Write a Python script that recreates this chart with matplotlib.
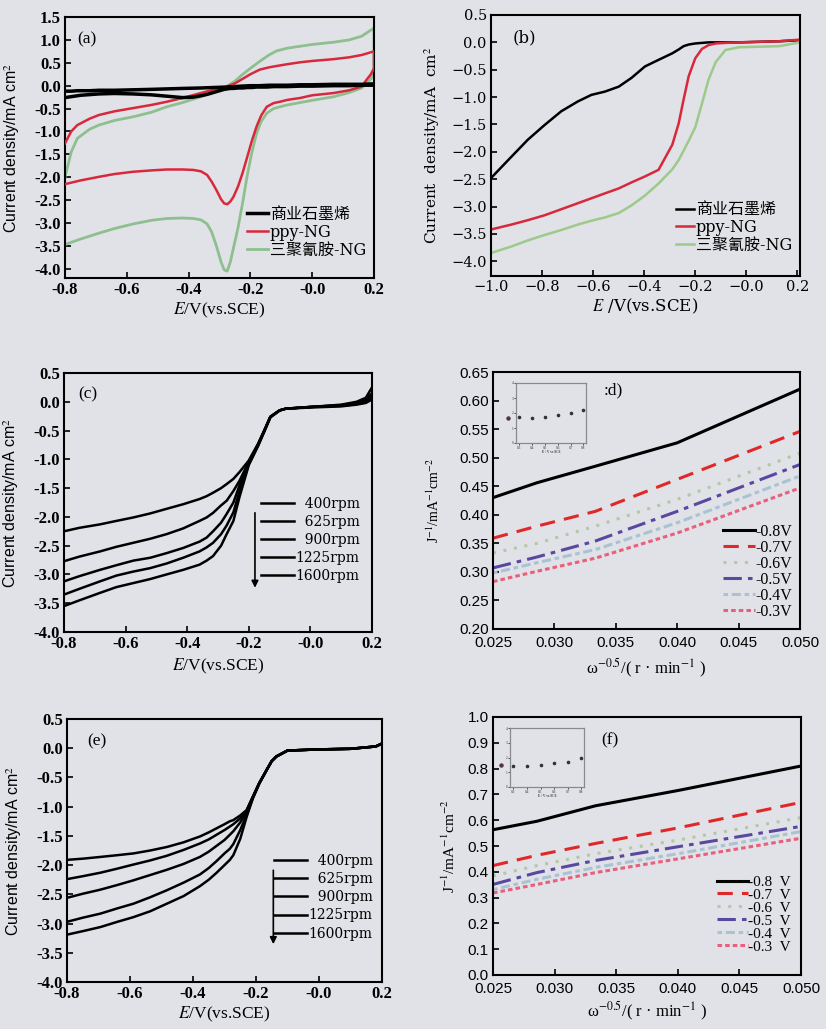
import numpy as np
import matplotlib
matplotlib.use('Agg')
import matplotlib.pyplot as plt
from matplotlib.ticker import FuncFormatter

plt.rcParams['font.family'] = ['Liberation Serif', 'Noto Sans CJK SC', 'DejaVu Sans']
plt.rcParams['mathtext.fontset'] = 'stix'
plt.rcParams['axes.unicode_minus'] = False

BG = '#e1e2e7'
RED = '#d8283c'
GREEN_A = '#8dc08e'
GREEN_B = '#9dc98a'

# ---------------- (a) CV curves: upper (anodic) and lower (cathodic) branches
e_a_up = [-0.8, -0.78, -0.76, -0.72, -0.69, -0.64, -0.58, -0.52, -0.47, -0.42, -0.36, -0.32, -0.28,
          -0.25, -0.23, -0.2, -0.17, -0.14, -0.115, -0.08, -0.04, 0.0, 0.07, 0.12, 0.16, 0.2]
red_a_up = [-1.26, -1.0, -0.86, -0.72, -0.64, -0.56, -0.49, -0.42, -0.35, -0.27, -0.16, -0.09, -0.03,
            0.05, 0.13, 0.25, 0.35, 0.4, 0.43, 0.47, 0.51, 0.54, 0.58, 0.62, 0.67, 0.75]
green_a_up = [-2.0, -1.45, -1.15, -0.95, -0.86, -0.76, -0.68, -0.58, -0.46, -0.37, -0.24, -0.14, -0.03,
              0.1, 0.22, 0.38, 0.53, 0.67, 0.76, 0.82, 0.86, 0.9, 0.95, 1.0, 1.08, 1.26]
black_a_up = [-0.12, -0.12, -0.11, -0.11, -0.1, -0.1, -0.09, -0.08, -0.07, -0.06, -0.05, -0.04, -0.03,
              -0.02, -0.01, 0.0, 0.0, 0.01, 0.01, 0.01, 0.02, 0.02, 0.03, 0.03, 0.03, 0.04]
e_a_dn = [0.2, 0.19, 0.176, 0.16, 0.12, 0.07, 0.0, -0.04, -0.08, -0.104, -0.125, -0.147, -0.165, -0.18,
          -0.195, -0.21, -0.225, -0.24, -0.255, -0.265, -0.275, -0.285, -0.295, -0.31, -0.325, -0.34,
          -0.36, -0.385, -0.42, -0.47, -0.52, -0.58, -0.64, -0.69, -0.75, -0.8]
red_a_dn = [0.38, 0.25, 0.13, -0.02, -0.1, -0.16, -0.21, -0.27, -0.31, -0.35, -0.38, -0.46, -0.65, -0.89,
            -1.2, -1.55, -1.9, -2.2, -2.43, -2.53, -2.59, -2.57, -2.48, -2.28, -2.1, -1.95,
            -1.87, -1.84, -1.83, -1.83, -1.85, -1.88, -1.93, -1.99, -2.07, -2.15]
green_a_dn = [0.28, 0.15, 0.05, -0.05, -0.15, -0.24, -0.32, -0.37, -0.42, -0.46, -0.5, -0.6, -0.78, -1.04,
              -1.45, -1.95, -2.55, -3.1, -3.55, -3.85, -4.05, -4.02, -3.85, -3.5, -3.2, -3.02,
              -2.93, -2.9, -2.89, -2.9, -2.94, -3.02, -3.12, -3.22, -3.35, -3.47]
black_a_dn = [0.01, 0.01, 0.01, 0.01, 0.0, 0.0, -0.01, -0.01, -0.02, -0.02, -0.02, -0.03, -0.03, -0.03,
              -0.04, -0.04, -0.05, -0.05, -0.06, -0.06, -0.07, -0.08, -0.1, -0.13, -0.16, -0.19,
              -0.22, -0.25, -0.26, -0.23, -0.2, -0.18, -0.17, -0.18, -0.21, -0.26]
labels_ab = ['商业石墨烯', 'ppy-NG', '三聚氰胺-NG']

# ---------------- (b) LSV
e_b = [-1.0, -0.92, -0.856, -0.79, -0.725, -0.66, -0.607, -0.554, -0.5, -0.45, -0.397, -0.344, -0.29,
       -0.265, -0.246, -0.226, -0.2, -0.174, -0.148, -0.12, -0.082, -0.03, 0.05, 0.128, 0.21]
black_b = [-2.48, -2.09, -1.78, -1.51, -1.26, -1.08, -0.96, -0.9, -0.81, -0.65, -0.44, -0.32, -0.2,
           -0.13, -0.07, -0.04, -0.02, -0.01, 0.0, 0.0, 0.0, 0.0, 0.01, 0.02, 0.04]
red_b = [-3.42, -3.33, -3.25, -3.16, -3.05, -2.94, -2.85, -2.76, -2.67, -2.56, -2.45, -2.33, -1.87,
         -1.48, -1.05, -0.62, -0.29, -0.12, -0.05, -0.02, -0.01, 0.0, 0.01, 0.02, 0.05]
green_b = [-3.85, -3.73, -3.62, -3.52, -3.43, -3.33, -3.26, -3.2, -3.12, -2.98, -2.8, -2.58, -2.32,
           -2.15, -1.98, -1.8, -1.55, -1.12, -0.68, -0.36, -0.14, -0.09, -0.08, -0.07, 0.0]

# ---------------- (c) LSV at different rotation rates
rpm_labels = ['  400rpm', '  625rpm', '  900rpm', '1225rpm', '1600rpm']
e_c = [-0.8, -0.75, -0.683, -0.63, -0.575, -0.52, -0.467, -0.413, -0.36, -0.337, -0.316, -0.29, -0.272,
       -0.25, -0.23, -0.2, -0.17, -0.15, -0.13, -0.1, -0.08, 0.0, 0.1, 0.15, 0.18, 0.2]
c400 = [-2.25, -2.19, -2.13, -2.07, -2.01, -1.94, -1.86, -1.78, -1.69, -1.64, -1.58, -1.5, -1.43,
        -1.34, -1.22, -1.02, -0.73, -0.5, -0.26, -0.15, -0.12, -0.09, -0.05, 0.0, 0.07, 0.25]
c625 = [-2.77, -2.69, -2.6, -2.52, -2.45, -2.38, -2.3, -2.2, -2.07, -2.01, -1.93, -1.8, -1.72,
        -1.55, -1.37, -1.04, -0.74, -0.5, -0.26, -0.15, -0.12, -0.09, -0.06, -0.02, 0.04, 0.15]
c900 = [-3.12, -3.03, -2.92, -2.84, -2.76, -2.71, -2.63, -2.54, -2.43, -2.36, -2.25, -2.1, -1.95,
        -1.75, -1.45, -1.06, -0.75, -0.51, -0.26, -0.15, -0.12, -0.09, -0.06, -0.03, 0.02, 0.1]
c1225 = [-3.35, -3.25, -3.12, -3.02, -2.95, -2.89, -2.81, -2.71, -2.6, -2.53, -2.45, -2.3, -2.15,
         -1.92, -1.55, -1.08, -0.76, -0.52, -0.27, -0.15, -0.12, -0.09, -0.07, -0.04, 0.0, 0.07]
c1600 = [-3.55, -3.45, -3.32, -3.22, -3.15, -3.08, -3.0, -2.92, -2.83, -2.76, -2.68, -2.5, -2.3,
         -2.07, -1.65, -1.1, -0.77, -0.52, -0.27, -0.15, -0.12, -0.1, -0.08, -0.05, -0.02, 0.04]

# ---------------- (e)
e_e = [-0.8, -0.75, -0.694, -0.64, -0.589, -0.536, -0.483, -0.43, -0.378, -0.35, -0.325, -0.3, -0.283,
       -0.272, -0.25, -0.23, -0.21, -0.19, -0.166, -0.15, -0.135, -0.1, 0.0, 0.1, 0.18, 0.2]
e400 = [-1.91, -1.89, -1.86, -1.83, -1.8, -1.75, -1.69, -1.61, -1.51, -1.44, -1.37, -1.3, -1.25,
        -1.23, -1.15, -1.06, -0.83, -0.6, -0.37, -0.22, -0.14, -0.04, -0.02, -0.01, 0.03, 0.08]
e625 = [-2.24, -2.19, -2.13, -2.06, -1.99, -1.92, -1.84, -1.74, -1.63, -1.56, -1.48, -1.4, -1.34,
        -1.3, -1.2, -1.07, -0.83, -0.6, -0.37, -0.22, -0.14, -0.04, -0.02, -0.01, 0.03, 0.08]
e900 = [-2.56, -2.49, -2.42, -2.34, -2.26, -2.17, -2.08, -1.98, -1.86, -1.77, -1.67, -1.57, -1.48,
        -1.42, -1.27, -1.09, -0.84, -0.6, -0.37, -0.22, -0.14, -0.04, -0.02, -0.01, 0.03, 0.08]
e1225 = [-2.97, -2.9, -2.83, -2.74, -2.66, -2.55, -2.43, -2.3, -2.16, -2.05, -1.93, -1.8, -1.72,
         -1.64, -1.4, -1.14, -0.85, -0.61, -0.37, -0.22, -0.14, -0.04, -0.02, -0.01, 0.03, 0.08]
e1600 = [-3.19, -3.13, -3.06, -2.97, -2.89, -2.79, -2.66, -2.53, -2.36, -2.25, -2.13, -2.0, -1.91,
         -1.83, -1.55, -1.18, -0.86, -0.61, -0.37, -0.22, -0.14, -0.04, -0.02, -0.01, 0.03, 0.08]

# ---------------- (d), (f) Koutecky-Levich
w = [0.025, 0.02857, 0.03333, 0.04, 0.05]
kl_labels_d = ['-0.8V', '-0.7V', '-0.6V', '-0.5V', '-0.4V', '-0.3V']
kl_labels_f = ['-0.8  V', '-0.7  V', '-0.6  V', '-0.5  V', '-0.4  V', '-0.3  V']
kl_d = [[0.43, 0.456, 0.485, 0.526, 0.62],
        [0.359, 0.38, 0.406, 0.462, 0.546],
        [0.333, 0.35, 0.38, 0.427, 0.508],
        [0.307, 0.326, 0.354, 0.406, 0.488],
        [0.298, 0.316, 0.339, 0.386, 0.468],
        [0.283, 0.301, 0.324, 0.368, 0.447]]
kl_f = [[0.563, 0.596, 0.656, 0.715, 0.81],
        [0.424, 0.464, 0.51, 0.57, 0.669],
        [0.384, 0.424, 0.47, 0.523, 0.61],
        [0.351, 0.397, 0.444, 0.497, 0.576],
        [0.331, 0.371, 0.417, 0.47, 0.556],
        [0.318, 0.351, 0.397, 0.45, 0.53]]
inset_e = [0.3, 0.4, 0.5, 0.6, 0.7, 0.8]
inset_n_d = [1.71, 1.67, 1.71, 1.84, 1.98, 2.2]
inset_n_f = [1.45, 1.45, 1.5, 1.6, 1.72, 1.95]
stray_e = 0.21
stray_n_d = 1.67
stray_n_f = 1.5

kl_colors = ['black', '#e02828', '#b2c9a8', '#5848a0', '#a9c3d3', '#e8607c']
kl_styles = ['-', (0, (5, 3)), (0, (1, 2.5)), (0, (6, 2, 1.5, 2)), (0, (1.5, 1.2, 3, 1.2)), (0, (1.5, 1))]

W, H = 826, 1029
fig = plt.figure(figsize=(W / 100, H / 100), dpi=100, facecolor=BG)


def add_ax(l, t, r, b):
    return fig.add_axes([l / W, 1 - b / H, (r - l) / W, (b - t) / H])


def style(ax, xlim, ylim, xt, yt, xfmt, yfmt, font='Liberation Serif', minus='-', size=12, weight='bold'):
    ax.set_facecolor(BG)
    ax.set_xlim(xlim)
    ax.set_ylim(ylim)
    ax.set_xticks(xt)
    ax.set_yticks(yt)
    ax.xaxis.set_major_formatter(FuncFormatter(lambda v, p: (xfmt % v).replace('-', minus)))
    ax.yaxis.set_major_formatter(FuncFormatter(lambda v, p: (yfmt % v).replace('-', minus)))
    ax.tick_params(direction='in', length=4, width=1.2, labelsize=size, pad=3)
    for lab in ax.get_xticklabels() + ax.get_yticklabels():
        lab.set_family(font)
        lab.set_weight(weight)
    for s in ax.spines.values():
        s.set_linewidth(1.5)


ylab_sans = dict(family='Liberation Sans', fontsize=11.5)
rpm_prop = dict(size=10, family='DejaVu Serif')

# ---- (a)
ax = add_ax(65, 17, 374, 278)
style(ax, (-0.8, 0.2), (-4.2, 1.5), np.arange(-0.8, 0.21, 0.2), np.arange(-4.0, 1.51, 0.5), '%.1f', '%.1f')
ax.plot(np.append(e_a_up, e_a_dn), np.append(green_a_up, green_a_dn), color=GREEN_A, lw=2, zorder=2)
ax.plot(np.append(e_a_up, e_a_dn), np.append(red_a_up, red_a_dn), color=RED, lw=1.8, zorder=3)
ax.plot(np.append(e_a_up, e_a_dn), np.append(black_a_up, black_a_dn), color='black', lw=2.5, zorder=4)
h = ax.get_lines()
ax.legend([h[2], h[1], h[0]], labels_ab, loc='lower right', bbox_to_anchor=(1.02, 0.02), frameon=False,
          handlelength=1.3, handletextpad=0.1, labelspacing=0.05,
          prop=dict(size=11.5, family=['DejaVu Serif', 'Noto Sans CJK SC']))
ax.text(0.04, 0.915, '(a)', transform=ax.transAxes, fontsize=12.5, va='center')
ax.set_xlabel('$E$/V(vs.SCE)', fontsize=12.5, labelpad=2)
ax.set_ylabel('Current density/mA cm$^2$', **ylab_sans)
ax.yaxis.set_label_coords(-0.14, 0.5)

# ---- (b)
ax = add_ax(491, 15, 800, 276)
style(ax, (-1.0, 0.21), (-4.27, 0.5), np.arange(-1.0, 0.21, 0.2), np.arange(-4.0, 0.51, 0.5), '%.1f', '%.1f',
      font='DejaVu Serif', minus='\u2212', size=10.5, weight='normal')
ax.plot(e_b, black_b, color='black', lw=1.8)
ax.plot(e_b, red_b, color=RED, lw=1.8)
ax.plot(e_b, green_b, color=GREEN_B, lw=1.8)
ax.legend(labels_ab, loc='lower right', bbox_to_anchor=(1.02, 0.03), frameon=False,
          handlelength=1.1, handletextpad=0.1, labelspacing=0.05,
          prop=dict(size=11.5, family=['DejaVu Serif', 'Noto Sans CJK SC']))
ax.text(0.07, 0.912, '(b)', transform=ax.transAxes, fontsize=12, family='DejaVu Serif', va='center')
ax.set_xlabel('$E$ /V(vs.SCE)', fontsize=12, labelpad=2, family='DejaVu Serif')
ax.set_ylabel('Current  density/mA  cm$^2$', fontsize=11, family='DejaVu Serif')
ax.yaxis.set_label_coords(-0.16, 0.5)

# ---- (c)
ax = add_ax(64, 373, 372, 632)
style(ax, (-0.8, 0.2), (-4.0, 0.5), np.arange(-0.8, 0.21, 0.2), np.arange(-4.0, 0.51, 0.5), '%.1f', '%.1f')
for ys in [c400, c625, c900, c1225, c1600]:
    ax.plot(e_c, ys, color='black', lw=1.8)
ax.legend(rpm_labels, loc='lower right', bbox_to_anchor=(1.0, 0.14), frameon=False,
          handlelength=2.4, handletextpad=0.1, labelspacing=0.3, prop=rpm_prop)
ax.annotate('', xy=(-0.18, -3.28), xytext=(-0.18, -1.88),
            arrowprops=dict(arrowstyle='-|>', color='black', lw=1.2, mutation_scale=10))
ax.text(0.045, 0.919, '(c)', transform=ax.transAxes, fontsize=12.5, va='center')
ax.set_xlabel('$E$/V(vs.SCE)', fontsize=12.5, labelpad=3)
ax.set_ylabel('Current density/mA cm$^2$', **ylab_sans)
ax.yaxis.set_label_coords(-0.138, 0.5)

# ---- (d)
ax = add_ax(493, 372, 800, 629)
style(ax, (0.025, 0.05), (0.2, 0.65), np.arange(0.025, 0.0501, 0.005), np.arange(0.2, 0.651, 0.05), '%.3f', '%.2f',
      font='Liberation Sans', size=11, weight='normal')
ax.tick_params(axis='x', pad=5)
for ys, c, ls, lab in zip(kl_d, kl_colors, kl_styles, kl_labels_d):
    ax.plot(w, ys, color=c, ls=ls, lw=2.2, label=lab)
ax.legend(loc='lower right', bbox_to_anchor=(1.02, -0.02), frameon=False,
          handlelength=2.0, handletextpad=0.0, labelspacing=0.0, prop=dict(size=11.5))
ax.text(0.36, 0.93, ':d)', transform=ax.transAxes, fontsize=12.5, va='center')
ax.set_xlabel('ω$^{-0.5}$/( r · min$^{-1}$ )', fontsize=12, labelpad=5)
ax.set_ylabel('J$^{-1}$/mA$^{-1}$cm$^{-2}$', fontsize=10)
ax.yaxis.set_label_coords(-0.165, 0.5)

# ---- (e)
ax = add_ax(67, 719, 382, 982)
style(ax, (-0.8, 0.2), (-4.0, 0.5), np.arange(-0.8, 0.21, 0.2), np.arange(-4.0, 0.51, 0.5), '%.1f', '%.1f')
for ys in [e400, e625, e900, e1225, e1600]:
    ax.plot(e_e, ys, color='black', lw=1.8)
ax.legend(rpm_labels, loc='lower right', bbox_to_anchor=(1.01, 0.11), frameon=False,
          handlelength=2.4, handletextpad=0.1, labelspacing=0.3, prop=rpm_prop)
ax.annotate('', xy=(-0.145, -3.4), xytext=(-0.145, -2.04),
            arrowprops=dict(arrowstyle='-|>', color='black', lw=1.2, mutation_scale=10))
ax.text(0.063, 0.913, '(e)', transform=ax.transAxes, fontsize=12.5, va='center')
ax.set_xlabel('$E$/V(vs.SCE)', fontsize=12.5, labelpad=2)
ax.set_ylabel('Current density/mA cm$^2$', **ylab_sans)
ax.yaxis.set_label_coords(-0.138, 0.5)

# ---- (f)
ax = add_ax(493, 717, 801, 975)
style(ax, (0.025, 0.05), (0.0, 1.0), np.arange(0.025, 0.0501, 0.005), np.arange(0.0, 1.01, 0.1), '%.3f', '%.1f',
      font='Liberation Sans', size=11, weight='normal')
ax.tick_params(axis='x', pad=5)
for ys, c, ls, lab in zip(kl_f, kl_colors, kl_styles, kl_labels_f):
    ax.plot(w, ys, color=c, ls=ls, lw=2.2, label=lab)
ax.legend(loc='lower right', bbox_to_anchor=(1.01, 0.03), frameon=False,
          handlelength=2.0, handletextpad=0.0, labelspacing=-0.05, prop=dict(size=11))
ax.text(0.35, 0.91, '(f)', transform=ax.transAxes, fontsize=12.5, va='center')
ax.set_xlabel('ω$^{-0.5}$/( r · min$^{-1}$ )', fontsize=12, labelpad=3)
ax.set_ylabel('J$^{-1}$/mA$^{-1}$cm$^{-2}$', fontsize=11)
ax.yaxis.set_label_coords(-0.115, 0.5)


# ---- insets
def inset(l, t, r, b, ns, stray_n):
    ia = add_ax(l, t, r, b)
    ia.set_facecolor(BG)
    ia.set_xlim(0.275, 0.82)
    ia.set_ylim(0, 4)
    ia.set_xticks(inset_e)
    ia.set_yticks(range(5))
    ia.tick_params(direction='out', length=1.5, width=0.6, labelsize=2.5, pad=0.5, colors='#333333')
    for s in ia.spines.values():
        s.set_linewidth(0.9)
        s.set_color('#8a8a8e')
    ia.plot(inset_e, ns, 'o', ms=1.6, color='#333333')
    ia.plot([stray_e], [stray_n], 'o', ms=2.2, color='#553344', clip_on=False)
    ia.set_xlabel('E / V vs SCE', fontsize=2.5, labelpad=0.5)


inset(516, 383, 586, 443, inset_n_d, stray_n_d)
inset(510, 728, 584, 787, inset_n_f, stray_n_f)

fig.savefig('out.png', dpi=100, facecolor=BG)
